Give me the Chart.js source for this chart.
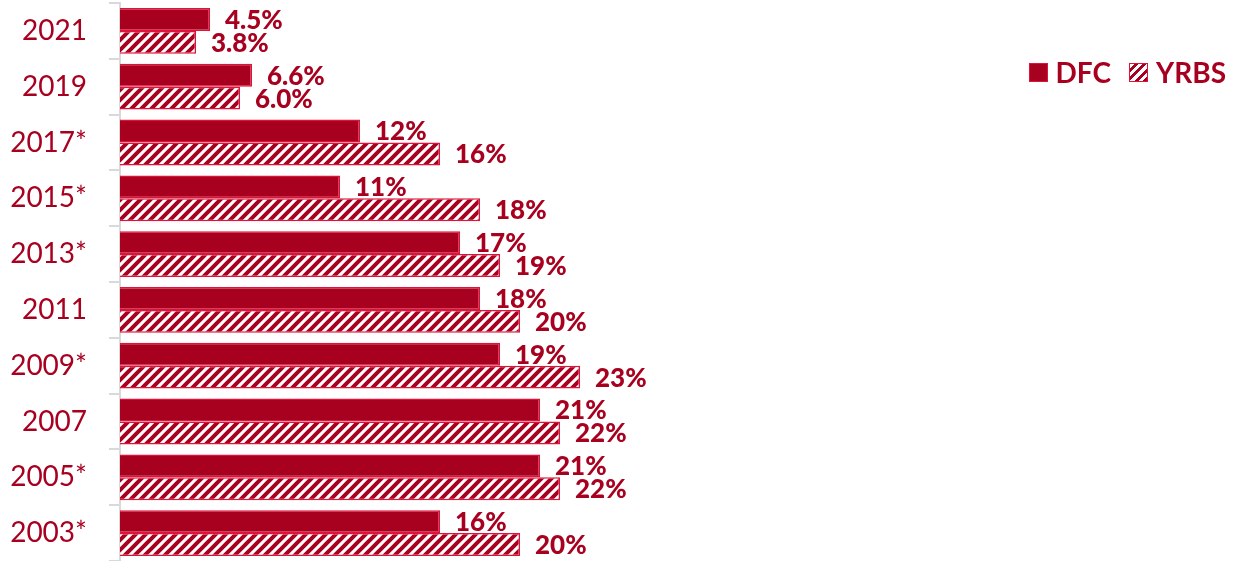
<!DOCTYPE html>
<html>
<head>
<meta charset="utf-8">
<script src="https://cdn.jsdelivr.net/npm/chart.js@4"></script>
<style>
  html, body { margin: 0; padding: 0; background: #fff; }
  #wrap { position: relative; width: 1234px; height: 561px; }
  #legend {
    position: absolute; top: 55px; right: 8px;
    font: bold 28px Lato, sans-serif; color: #a8001f;
    display: flex; align-items: center;
  }
  .sw { display: inline-block; width: 17px; height: 17px; border: 1px solid #e0123a; margin-right: 8px; }
  .solid { background: #a8001f; }
  .hatch { background: repeating-linear-gradient(135deg, #fff 0 3px, #a8001f 3px 6px); }
</style>
</head>
<body>
<div id="wrap">
  <canvas id="barChart" width="1234" height="561"></canvas>
  <div id="legend">
    <span class="sw solid"></span><span style="margin-right:18px">DFC</span>
    <span class="sw hatch"></span><span>YRBS</span>
  </div>
</div>
<script>
const years = ["2021", "2019", "2017*", "2015*", "2013*", "2011", "2009*", "2007", "2005*", "2003*"];
const dfc = [4.5, 6.6, 12, 11, 17, 18, 19, 21, 21, 16];
const yrbs = [3.8, 6.0, 16, 18, 19, 20, 23, 22, 22, 20];

const darkRed = "#a8001f";
const edgeRed = "#e0123a";

// diagonal stripes for the YRBS bars
const makeHatch = () => {
  const c = document.createElement("canvas");
  c.width = 10;
  c.height = 10;
  const g = c.getContext("2d");
  g.fillStyle = "#fff";
  g.fillRect(0, 0, 10, 10);
  g.strokeStyle = darkRed;
  g.lineWidth = 4;
  g.beginPath();
  g.moveTo(-2, 12); g.lineTo(12, -2);
  g.moveTo(-7, 7); g.lineTo(7, -7);
  g.moveTo(3, 17); g.lineTo(17, 3);
  g.stroke();
  return document.getElementById("barChart").getContext("2d").createPattern(c, "repeat");
};

const fmt = (v) => (v < 10 ? v.toFixed(1) : v.toFixed(0)) + "%";

// value labels at the end of each bar
const valueLabels = {
  id: "valueLabels",
  afterDatasetsDraw(chart) {
    const { ctx } = chart;
    ctx.save();
    ctx.font = "900 26px Lato, sans-serif";
    ctx.fillStyle = darkRed;
    ctx.textBaseline = "middle";
    chart.data.datasets.forEach((ds, i) => {
      chart.getDatasetMeta(i).data.forEach((bar, j) => {
        ctx.fillText(fmt(ds.data[j]), bar.x + 15, bar.y + 1);
      });
    });
    ctx.restore();
  },
};

const ctx = document.getElementById("barChart").getContext("2d");
const myChart = new Chart(ctx, {
  type: "bar",
  data: {
    labels: years,
    datasets: [
      {
        label: "DFC",
        data: dfc,
        backgroundColor: darkRed,
        borderColor: edgeRed,
        borderWidth: 1.5,
        categoryPercentage: 0.82,
        barPercentage: 1,
      },
      {
        label: "YRBS",
        data: yrbs,
        backgroundColor: makeHatch(),
        borderColor: edgeRed,
        borderWidth: 1.5,
        categoryPercentage: 0.82,
        barPercentage: 1,
      },
    ],
  },
  options: {
    indexAxis: "y",
    responsive: false,
    animation: false,
    layout: { padding: { top: 3, right: 114, bottom: 0, left: 0 } },
    plugins: {
      legend: { display: false },
      tooltip: { enabled: false },
    },
    scales: {
      x: {
        display: false,
        min: 0,
        max: 50,
      },
      y: {
        afterFit(scale) {
          scale.width = 120;
          scale.paddingTop = 0;
          scale.paddingBottom = 0;
        },
        border: { color: "#d9d9d9", width: 2 },
        grid: {
          offset: true,
          drawOnChartArea: false,
          tickLength: 11,
          color: "#d9d9d9",
          lineWidth: 2,
        },
        ticks: {
          padding: 22,
          color: darkRed,
          font: { family: "Lato, sans-serif", size: 28 },
        },
      },
    },
  },
  plugins: [valueLabels],
});
</script>
</body>
</html>
